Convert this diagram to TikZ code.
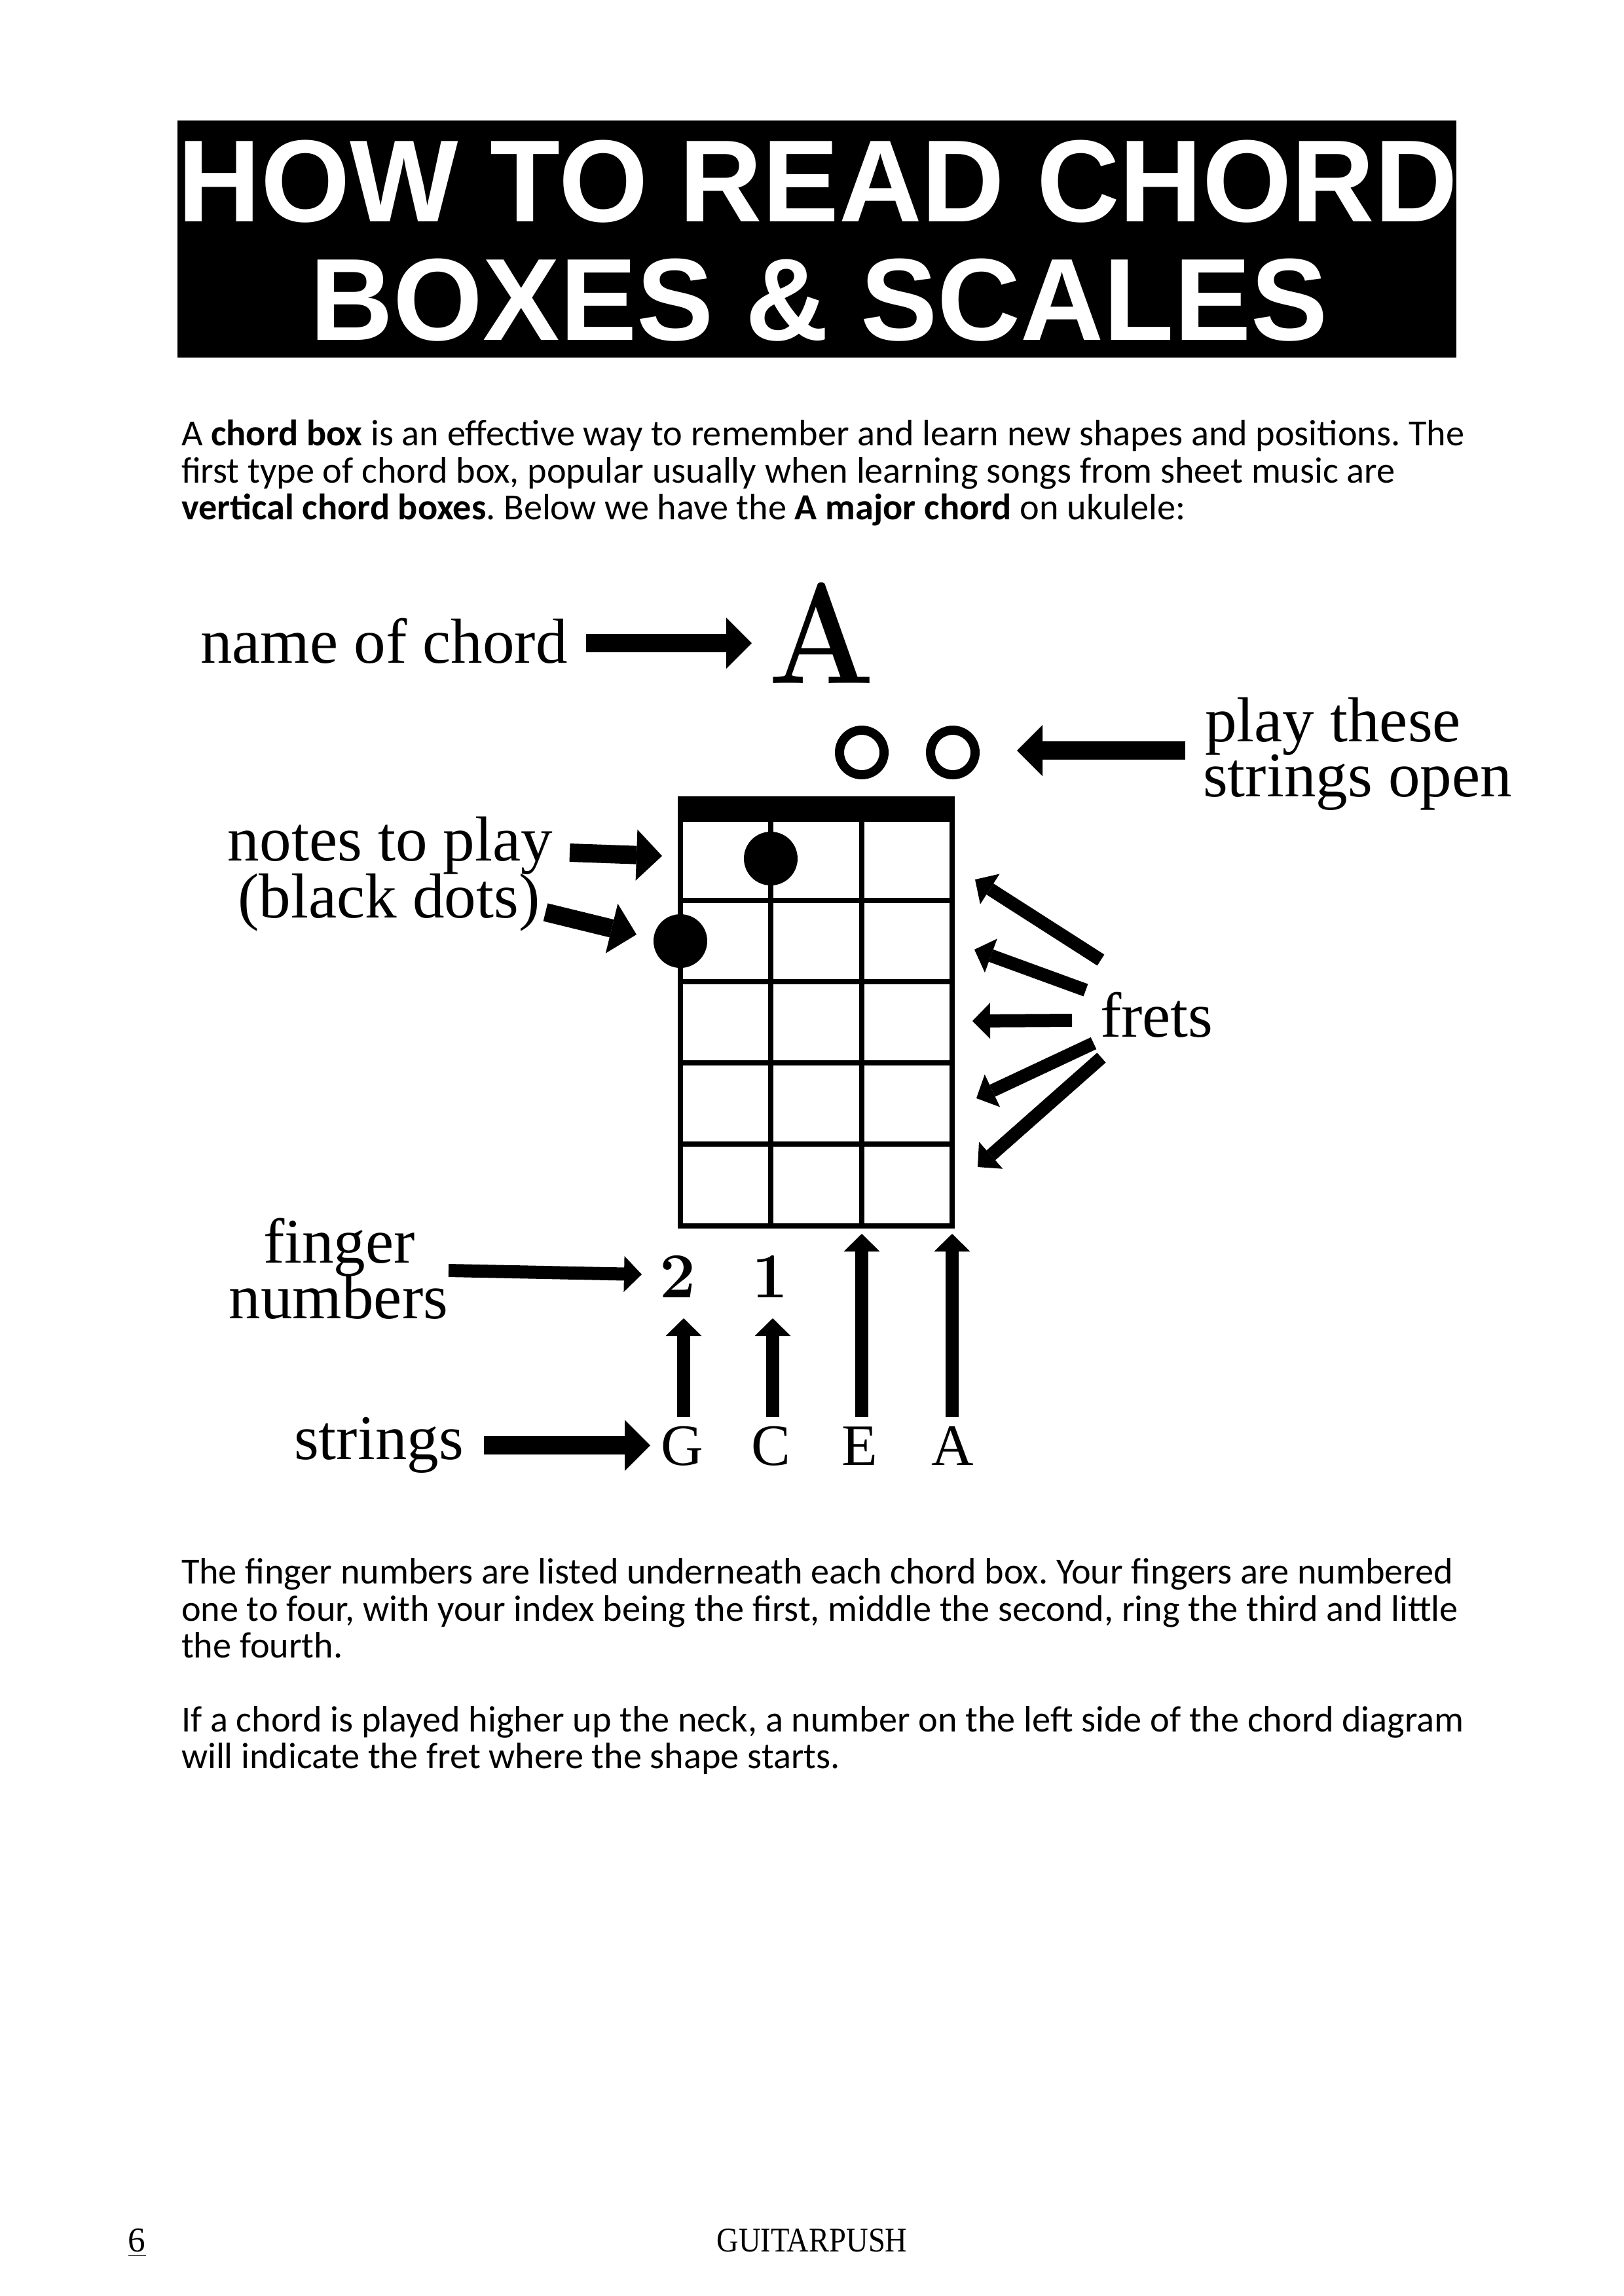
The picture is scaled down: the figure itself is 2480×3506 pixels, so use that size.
\documentclass[tikz,border=0pt]{standalone}
\usepackage{fontspec}
\usepackage{graphicx}
\usetikzlibrary{arrows.meta}
\newfontfamily\labfont{Liberation Serif}
\newfontfamily\bodyfont{Carlito}
\newfontfamily\titlefont{Liberation Sans}
\begin{document}
\frenchspacing
\begin{tikzpicture}[x=0.24pt,y=-0.24pt,
  lab/.style={font=\labfont\fontsize{23.3pt}{23.3pt}\selectfont, inner sep=0pt, outer sep=0pt, text height=0.66em, text depth=0.2em},
  strlab/.style={font=\labfont\fontsize{21.5pt}{21.5pt}\selectfont, inner sep=0pt, outer sep=0pt, anchor=base},
  fnum/.style={font=\fontsize{23.5pt}{23.5pt}\selectfont\bfseries, inner sep=0pt, outer sep=0pt, anchor=base},
  bodyline/.style={font=\bodyfont\fontsize{13.5pt}{13.56pt}\selectfont, inner sep=0pt, outer sep=0pt, anchor=base west},
  titleline/.style={font=\titlefont\bfseries\fontsize{42.8pt}{42.8pt}\selectfont, text=white, inner sep=0pt, outer sep=0pt, anchor=base},
  bigarrow/.style={line width=6.72pt, -{Triangle[length=9.36pt,width=18.72pt,line width=0pt]}},
  smallarrow/.style={line width=4.8pt, -{Triangle[length=6.48pt,width=13.2pt,line width=0pt]}},
  gridline/.style={line width=1.92pt},
  fingerdot/.style={circle, fill=black, minimum size=19.68pt, inner sep=0pt, outer sep=0pt},
  opendot/.style={circle, draw=black, line width=3.36pt, minimum size=16.32pt, inner sep=0pt, outer sep=0pt},
]
\useasboundingbox (0,0) rectangle (2480,3506);
\fill[white] (0,0) rectangle (2480,3506);

% title
\node (titlebox) [fill=black, minimum width=468.7pt, minimum height=86.9pt, inner sep=0pt] at (1247.5,365) {};
\node (title1) [titleline] at (1249,338) {\resizebox{469pt}{\height}{HOW TO READ CHORD}};
\node (title2) [titleline] at (1251,519) {\resizebox{373pt}{\height}{BOXES \& SCALES}};

% intro paragraph
\node (p1a) [bodyline] at (277,680) {A \textbf{chord box} is an effective way to remember and learn new shapes and positions. The};
\node (p1b) [bodyline] at (277,737) {first type of chord box, popular usually when learning songs from sheet music are};
\node (p1c) [bodyline] at (277,793) {\textbf{vertical chord boxes}. Below we have the \textbf{A major chord} on ukulele:};

% chord name
\node (chordname) [font=\fontsize{52.7pt}{52.7pt}\selectfont\bfseries, inner sep=0pt, anchor=base] at (1255,1043) {\scalebox{0.87}[1]{A}};
\node (namelab) [lab, anchor=base west] at (306,1012) {name of chord};
\coordinate (nameS) at (895,982);
\coordinate (nameT) at (1148,982);
\draw[bigarrow] (nameS) -- (nameT);

% open strings
\node (open3) [opendot] at (1316,1149) {};
\node (open4) [opendot] at (1455,1149) {};
\node (openlab1) [lab, anchor=base west] at (1840,1132) {play these};
\node (openlab2) [lab, anchor=base west] at (1837,1216) {strings open};
\coordinate (openS) at (1810,1146);
\coordinate (openT) at (1553,1146);
\draw[bigarrow] (openS) -- (openT);

% chord box
\fill[black] (1035,1216) rectangle (1458,1252);
\draw[gridline] (1039,1251) rectangle (1454,1872);
\foreach \yy in {1375,1499,1623,1747} \draw[gridline] (1039,\yy) -- (1454,\yy);
\foreach \xx in {1177,1316} \draw[gridline] (\xx,1251) -- (\xx,1872);

% finger dots
\node (dot1) [fingerdot] at (1177,1311) {};
\node (dot2) [fingerdot] at (1039,1437) {};
\node (noteslab1) [lab, anchor=base] at (596,1314) {notes to play};
\node (noteslab2) [lab, anchor=base] at (594,1401) {(black dots)};
\coordinate (n1S) at (870,1302);
\coordinate (n1T) at (1011,1307);
\coordinate (n2S) at (833,1393);
\coordinate (n2T) at (972,1427);
\draw[bigarrow] (n1S) -- (n1T);
\draw[bigarrow] (n2S) -- (n2T);

% frets
\node (fretlab) [lab, anchor=base west] at (1680,1583) {frets};
\coordinate (f1S) at (1681,1466); \coordinate (f1T) at (1489,1343);
\coordinate (f2S) at (1658,1512); \coordinate (f2T) at (1488,1450);
\coordinate (f3S) at (1637,1558); \coordinate (f3T) at (1485,1559);
\coordinate (f4S) at (1670,1593); \coordinate (f4T) at (1491,1677);
\coordinate (f5S) at (1682,1615); \coordinate (f5T) at (1493,1782);
\draw[smallarrow] (f1S) -- (f1T);
\draw[smallarrow] (f2S) -- (f2T);
\draw[smallarrow] (f3S) -- (f3T);
\draw[smallarrow] (f4S) -- (f4T);
\draw[smallarrow] (f5S) -- (f5T);

% finger numbers
\node (num2) [fnum] at (1035,1981) {2};
\node (num1) [fnum] at (1176,1981) {1};
\node (fingerlab1) [lab, anchor=base] at (518,1928) {finger};
\node (fingerlab2) [lab, anchor=base] at (517,2013) {numbers};
\coordinate (fnS) at (685,1940);
\coordinate (fnT) at (980,1946);
\draw[smallarrow] (fnS) -- (fnT);

% strings
\node (sG) [strlab] at (1042,2237) {G};
\node (sC) [strlab] at (1177,2237) {C};
\node (sE) [strlab] at (1313,2237) {E};
\node (sA) [strlab] at (1455,2237) {A};
\node (stringlab) [lab, anchor=base west] at (449,2228) {strings};
\coordinate (stS) at (739,2207);
\coordinate (stT) at (993,2207);
\draw[bigarrow] (stS) -- (stT);
\coordinate (gS) at (1044,2164); \coordinate (gT) at (1044,2013);
\coordinate (cS) at (1180,2164); \coordinate (cT) at (1180,2013);
\coordinate (eS) at (1316,2164); \coordinate (eT) at (1316,1884);
\coordinate (aS) at (1454,2164); \coordinate (aT) at (1454,1884);
\draw[smallarrow] (gS) -- (gT);
\draw[smallarrow] (cS) -- (cT);
\draw[smallarrow] (eS) -- (eT);
\draw[smallarrow] (aS) -- (aT);

% lower paragraphs
\node (p2a) [bodyline] at (277,2418) {The finger numbers are listed underneath each chord box. Your fingers are numbered};
\node (p2b) [bodyline] at (277,2475) {one to four, with your index being the first, middle the second, ring the third and little};
\node (p2c) [bodyline] at (277,2531) {the fourth.};
\node (p3a) [bodyline] at (277,2644) {If a chord is played higher up the neck, a number on the left side of the chord diagram};
\node (p3b) [bodyline] at (277,2700) {will indicate the fret where the shape starts.};

% footer
\node (pagenum) [font=\labfont\fontsize{12.8pt}{12.8pt}\selectfont, inner sep=0pt, anchor=base west] at (195,3438) {\underline{6}};
\node (brand) [font=\labfont\fontsize{12.7pt}{12.7pt}\selectfont, inner sep=0pt, anchor=base] at (1240,3438) {\scalebox{0.88}[1]{GUITARPUSH}};
\end{tikzpicture}
\end{document}
